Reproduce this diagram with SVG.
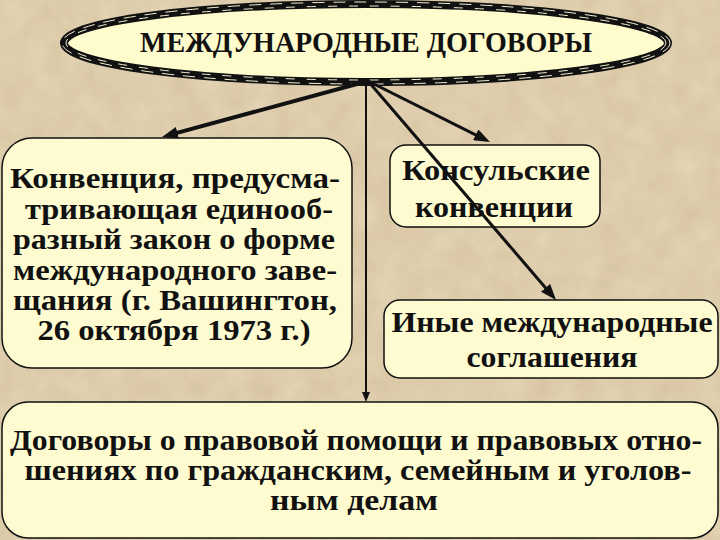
<svg xmlns="http://www.w3.org/2000/svg" width="720" height="540" viewBox="0 0 720 540">
<defs>
<style>
.box{fill:#fdfbcf;stroke:#111;stroke-width:1.5}
text{font-family:'Liberation Serif','DejaVu Serif',serif;font-weight:bold;font-size:29px;fill:#111;text-anchor:middle}
.c{stroke:#111;fill:none}
</style>
<filter id="paper" x="0" y="0" width="100%" height="100%">
<feTurbulence type="fractalNoise" baseFrequency="0.04" numOctaves="3" seed="4" result="n"/>
<feColorMatrix in="n" type="matrix" values="0 0 0 0 0.55  0 0 0 0 0.45  0 0 0 0 0.3  0 0 0 0.35 0" result="c"/>
<feComposite in="c" in2="SourceGraphic" operator="in" result="m"/>
<feBlend in="m" in2="SourceGraphic" mode="multiply"/>
</filter>
<marker id="ah" markerUnits="userSpaceOnUse" markerWidth="16" markerHeight="12" refX="10" refY="6" orient="auto">
<path d="M0,0 L16,6 L0,12 z" fill="#111"/>
</marker>
<marker id="ahs" markerUnits="userSpaceOnUse" markerWidth="10" markerHeight="8" refX="6" refY="4" orient="auto">
<path d="M0,0 L10,4 L0,8 z" fill="#111"/>
</marker>
</defs>
<rect x="0" y="0" width="720" height="540" fill="#e6d6b6" filter="url(#paper)"/>

<g id="title">
<ellipse cx="366" cy="43" rx="302" ry="39" fill="#fefccc" stroke="#111" stroke-width="8"/>
<ellipse cx="366" cy="43" rx="304" ry="41" fill="none" stroke="#f3efd0" stroke-width="1" stroke-dasharray="12 9"/>
<ellipse cx="366" cy="43" rx="300" ry="37" fill="none" stroke="#f3efd0" stroke-width="1" stroke-dasharray="9 12"/>
<text x="366" y="52" textLength="452" lengthAdjust="spacingAndGlyphs">МЕЖДУНАРОДНЫЕ ДОГОВОРЫ</text>
</g>

<g id="node-convention">
<rect class="box" x="2" y="138" width="350" height="230" rx="30"/>
<text x="175" y="188" textLength="330" lengthAdjust="spacingAndGlyphs">Конвенция, предусма-</text>
<text x="179" y="219" textLength="308" lengthAdjust="spacingAndGlyphs">тривающая единооб-</text>
<text x="174" y="249" textLength="322" lengthAdjust="spacingAndGlyphs">разный закон о форме</text>
<text x="175" y="280" textLength="324" lengthAdjust="spacingAndGlyphs">международного заве-</text>
<text x="175" y="310" textLength="324" lengthAdjust="spacingAndGlyphs">щания (г. Вашингтон,</text>
<text x="174" y="340" textLength="273" lengthAdjust="spacingAndGlyphs">26 октября 1973 г.)</text>
</g>

<g id="node-consular">
<rect class="box" x="390" y="145" width="210" height="82" rx="16"/>
<text x="496" y="180" textLength="188" lengthAdjust="spacingAndGlyphs">Консульские</text>
<text x="494" y="217" textLength="158" lengthAdjust="spacingAndGlyphs">конвенции</text>
</g>

<g id="node-other">
<rect class="box" x="384" y="300" width="334" height="78" rx="16"/>
<text x="552" y="332" textLength="321" lengthAdjust="spacingAndGlyphs">Иные международные</text>
<text x="552" y="367" textLength="171" lengthAdjust="spacingAndGlyphs">соглашения</text>
</g>

<g id="node-legal-aid">
<rect class="box" x="2" y="402" width="716" height="136" rx="26"/>
<text x="356" y="450" textLength="692" lengthAdjust="spacingAndGlyphs">Договоры о правовой помощи и правовых отно-</text>
<text x="358" y="480" textLength="667" lengthAdjust="spacingAndGlyphs">шениях по гражданским, семейным и уголов-</text>
<text x="354" y="510" textLength="168" lengthAdjust="spacingAndGlyphs">ным делам</text>
</g>

<g id="connectors">
<line class="c" x1="368" y1="81" x2="167.8" y2="135.4" stroke-width="4" marker-end="url(#ah)"/>
<line class="c" x1="368" y1="81" x2="484.6" y2="139.3" stroke-width="3" marker-end="url(#ah)"/>
<line class="c" x1="368" y1="81" x2="552.1" y2="295.4" stroke-width="3" marker-end="url(#ah)"/>
<line class="c" x1="366" y1="81" x2="366" y2="398" stroke-width="2" marker-end="url(#ahs)"/>
</g>
</svg>
